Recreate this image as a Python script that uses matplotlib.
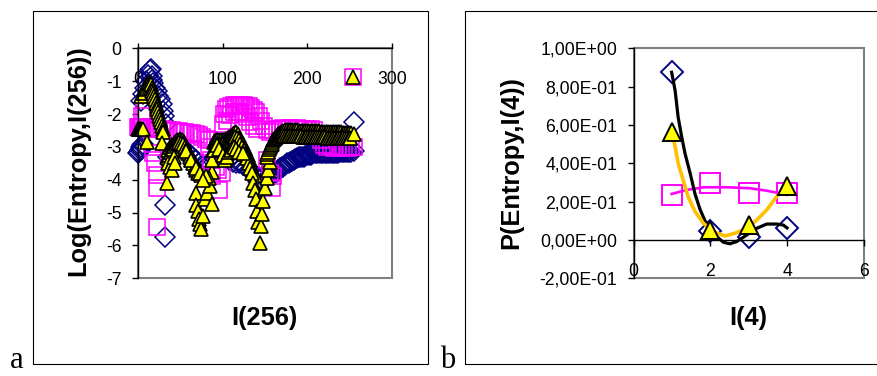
import matplotlib.pyplot as plt
from matplotlib.patches import Rectangle

plt.rcParams['font.family'] = ['Liberation Sans', 'DejaVu Sans']

# ---- panel a : Log(Entropy, I(256)) ----
a_xticks = [0, 100, 200, 300]
a_xtick_labels = ['0', '100', '200', '300']
a_yticks = [0, -1, -2, -3, -4, -5, -6, -7]
a_ytick_labels = ['0', '-1', '-2', '-3', '-4', '-5', '-6', '-7']

# series 1 (diamonds)
a_dia_x = [0, 1, 2, 3, 4, 5, 6,
           4, 6, 8, 10, 12, 14, 15, 16, 17, 18, 20, 22, 24, 26, 28, 30, 31, 33,
           32, 32,
           36, 40, 44, 48, 52, 56, 60, 64, 68, 72, 76, 80,
           84, 88, 92, 96, 100, 104, 108, 112, 116, 120, 124, 128, 132, 136, 140, 144, 148, 152,
           154, 156, 158, 160, 162, 164, 166, 168, 170, 172, 174, 176, 178, 180, 182, 184, 186, 188,
           190, 192, 194, 196, 198, 200, 202, 204, 206, 208, 210, 212, 214, 216, 218, 220, 222, 224,
           226, 228, 230, 232, 234, 236, 238, 240, 242, 244, 246, 248, 250, 252,
           255, 256]
a_dia_y = [-3.2, -3.15, -3.1, -3.05, -3.0, -2.95, -2.9,
           -1.6, -1.4, -1.2, -1.0, -0.8, -0.65, -0.62, -0.85, -0.95, -1.05, -1.2, -1.3, -1.45, -1.55, -1.7,
           -1.9, -2.05, -2.3,
           -4.77, -5.73,
           -3.3, -3.2, -3.1, -3.0, -3.0, -3.1, -3.2, -3.3, -3.4, -3.5, -3.55, -3.6,
           -3.5, -3.4, -3.3, -3.25, -3.3, -3.35, -3.4, -3.45, -3.5, -3.5, -3.55, -3.6, -3.7, -3.8, -3.9, -3.95,
           -3.9, -3.8,
           -3.9, -3.85, -3.83, -3.8, -3.78, -3.75, -3.7, -3.65, -3.62, -3.6, -3.55, -3.5, -3.48, -3.45, -3.42,
           -3.4, -3.38, -3.35,
           -3.32, -3.3, -3.3, -3.3, -3.27, -3.25, -3.25, -3.25, -3.22, -3.2, -3.2, -3.2, -3.2, -3.2, -3.2, -3.2,
           -3.2, -3.2,
           -3.2, -3.2, -3.2, -3.2, -3.18, -3.18, -3.17, -3.15, -3.15, -3.15, -3.15, -3.15, -3.15, -3.15,
           -2.23, -3.12]

# series 2 (squares)
a_sq_x = [0, 1, 2, 3, 4, 5, 6, 5, 7,
          8, 12, 16, 20, 24, 28, 32, 36, 40, 44, 48, 52, 56, 60, 64, 68, 72, 76, 80, 84,
          16, 18, 20, 22, 23, 22,
          84, 86, 88, 92, 95, 96, 99,
          100, 102, 104, 107, 110, 113, 116, 119, 122, 125, 128, 131, 134, 137, 140, 143, 146, 149, 152,
          105, 109, 113, 117, 121, 125, 129, 133, 137, 141,
          152, 156, 158, 160,
          156, 160, 164, 168, 172, 176, 180, 184, 188, 192, 196, 200, 204, 208, 212, 216, 220,
          224, 228, 232, 236, 240, 244, 248, 252, 256,
          254]
a_sq_y = [-2.4, -2.4, -2.4, -2.4, -2.4, -2.4, -2.4, -2.05, -1.9,
          -2.42, -2.44, -2.45, -2.46, -2.46, -2.47, -2.48, -2.49, -2.5, -2.51, -2.52, -2.54, -2.55, -2.57,
          -2.59, -2.61, -2.65, -2.7, -2.75, -2.8,
          -2.9, -3.2, -3.5, -3.85, -4.25, -5.43,
          -3.0, -3.4, -3.9, -3.6, -3.7, -4.3, -3.8,
          -2.3, -2.0, -1.85, -1.79, -1.76, -1.74, -1.72, -1.72, -1.72, -1.73, -1.75, -1.77, -1.82, -1.88,
          -1.95, -2.06, -2.2, -2.35, -2.5,
          -2.2, -2.02, -1.95, -1.95, -1.95, -2.0, -2.1, -2.23, -2.35, -2.45,
          -3.4, -3.8, -4.25, -3.9,
          -2.55, -2.5, -2.47, -2.45, -2.44, -2.45, -2.44, -2.45, -2.44, -2.45, -2.45, -2.45, -2.47, -2.5,
          -2.6, -2.8, -2.95,
          -3.0, -2.98, -3.02, -3.0, -3.02, -3.0, -3.02, -3.0, -3.0,
          -0.88]

# series 3 (triangles)
a_tri_x = [0, 1, 2, 3, 4, 5, 6,
           4, 6, 8, 9, 10, 11, 12, 13, 14, 15, 16, 17, 18, 19, 20, 21, 22, 23, 24, 25, 26, 27, 28, 29, 30,
           11, 28, 34,
           34, 36, 38, 40, 42, 44, 46, 48, 50, 52, 54, 56, 58, 60, 62, 64, 66, 68, 70, 72, 74,
           35, 37, 39, 41, 43, 45, 47, 49, 51, 53, 55, 57, 59, 61, 63, 65, 67, 69, 71,
           36, 38, 40, 42, 44, 57, 63, 69, 73,
           69, 69, 71, 72, 73, 75, 77, 79, 82, 85, 87, 87, 84, 80, 77,
           88, 89, 90, 91, 92, 94, 96, 98, 100, 102, 104, 106, 108, 110, 112, 114, 116,
           118, 120, 122, 124, 126, 128, 130, 132, 134, 136, 138,
           93, 95, 97, 99, 101, 103, 105, 107, 109, 111, 113, 115, 117, 119, 121, 123, 125, 127, 129,
           131, 133, 135,
           90, 93, 96, 100, 103, 105, 108, 110, 113, 116, 120, 124,
           136, 138, 140, 141, 142, 144, 146, 147, 148, 150, 152, 154, 156,
           152, 153, 154, 155, 156, 157, 158, 159, 160, 161, 162, 163, 164, 165, 166, 167, 168, 169, 170,
           172, 174, 176, 178, 180, 182, 184, 186, 188, 190, 192, 194, 196, 198, 200, 202, 204, 206,
           208, 210, 212, 214, 216, 218, 220, 222, 224, 226, 228, 230, 232, 234, 236, 238, 240, 242,
           244, 246, 248, 250, 252,
           173, 175, 177, 179, 181, 183, 185, 187, 189, 191, 193, 195, 197, 199, 201, 203, 205, 207,
           209, 211, 213, 215, 217, 219, 221, 223, 225, 227, 229, 231, 233, 235, 237, 239, 241, 243,
           245, 247, 249, 251,
           255, 254]
a_tri_y = [-2.45, -2.45, -2.45, -2.45, -2.45, -2.45, -2.45,
           -1.45, -1.35, -1.25, -1.2, -1.15, -1.1, -1.05, -1.02, -1.05, -1.1, -1.2, -1.3, -1.35, -1.45, -1.55,
           -1.65, -1.75, -1.85, -1.95, -2.05, -2.15, -2.25, -2.35, -2.45, -2.55,
           -2.84, -2.89, -4.11,
           -3.3, -3.1, -3.0, -2.95, -2.9, -2.85, -2.8, -2.78, -2.75, -2.78, -2.85, -2.95, -3.05, -3.15, -3.25,
           -3.35, -3.45, -3.55, -3.65, -3.75, -3.85,
           -3.35, -3.25, -3.15, -3.05, -2.98, -2.92, -2.88, -2.85, -2.87, -2.92, -3.0, -3.1, -3.2, -3.3, -3.4,
           -3.5, -3.6, -3.7, -3.8,
           -3.5, -3.6, -3.7, -3.3, -3.5, -3.14, -3.4, -3.65, -3.8,
           -4.4, -4.77, -4.95, -5.2, -5.35, -5.5, -5.1, -4.6, -4.4, -4.2, -4.75, -3.75, -3.95, -3.9, -4.0,
           -3.4, -3.1, -2.85, -2.82, -2.8, -2.78, -2.78, -2.8, -2.8, -2.78, -2.75, -2.72, -2.7, -2.68, -2.62,
           -2.58, -2.55,
           -2.62, -2.72, -2.82, -2.92, -3.02, -3.12, -3.25, -3.4, -3.55, -3.7, -3.85,
           -2.9, -2.92, -2.95, -2.95, -2.92, -2.9, -2.88, -2.85, -2.82, -2.78, -2.74, -2.7, -2.72, -2.8, -2.9,
           -3.0, -3.1, -3.22, -3.35, -3.5, -3.65, -3.8,
           -3.1, -2.95, -3.05, -3.25, -3.4, -3.3, -3.15, -3.1, -3.0, -3.05, -3.15, -3.2,
           -4.1, -4.3, -4.6, -4.95, -5.3, -5.92, -5.4, -5.05, -4.65, -4.25, -3.95, -3.7, -3.45,
           -3.3, -3.22, -3.15, -3.07, -3.0, -2.95, -2.9, -2.85, -2.8, -2.76, -2.72, -2.69, -2.66, -2.64, -2.62,
           -2.6, -2.58, -2.56, -2.55,
           -2.52, -2.5, -2.5, -2.49, -2.49, -2.49, -2.5, -2.5, -2.5, -2.51, -2.51, -2.51, -2.52, -2.52, -2.52,
           -2.52, -2.52, -2.53,
           -2.53, -2.53, -2.53, -2.53, -2.54, -2.54, -2.54, -2.55, -2.55, -2.55, -2.55, -2.55, -2.55, -2.56,
           -2.56, -2.56, -2.56, -2.57,
           -2.57, -2.57, -2.57, -2.58, -2.58,
           -2.66, -2.67, -2.68, -2.67, -2.67, -2.67, -2.68, -2.67, -2.68, -2.68, -2.68, -2.69, -2.69, -2.69,
           -2.69, -2.7, -2.7, -2.7,
           -2.7, -2.7, -2.71, -2.71, -2.71, -2.71, -2.71, -2.72, -2.72, -2.72, -2.72, -2.72, -2.72, -2.73,
           -2.73, -2.73, -2.73, -2.73,
           -2.74, -2.74, -2.74, -2.74,
           -2.6, -0.88]

# ---- panel b : P(Entropy, I(4)) ----
b_x = [1, 2, 3, 4]
b_dia = [0.875, 0.049, 0.014, 0.064]
b_sq = [0.235, 0.296, 0.243, 0.243]
b_tri = [0.565, 0.052, 0.080, 0.282]
b_black_x = [0.99, 1.08, 1.16, 1.25, 1.34, 1.47, 1.60, 1.73, 1.86, 1.99, 2.17, 2.34, 2.51, 2.69,
             2.95, 3.21, 3.47, 3.73, 3.90, 4.0]
b_black_y = [0.875, 0.78, 0.64, 0.54, 0.45, 0.35, 0.24, 0.16, 0.10, 0.06, 0.017, -0.012, -0.02, -0.008,
             0.026, 0.061, 0.083, 0.083, 0.078, 0.063]
b_gold_x = [0.99, 1.08, 1.16, 1.29, 1.42, 1.60, 1.82, 2.08, 2.38, 2.64, 2.95, 3.21, 3.47, 3.73, 3.99]
b_gold_y = [0.565, 0.487, 0.40, 0.313, 0.226, 0.148, 0.087, 0.043, 0.021, 0.035, 0.061, 0.104,
            0.157, 0.226, 0.282]
b_pink_x = [0.99, 1.38, 1.82, 2.43, 3.03, 3.47, 3.90, 3.99]
b_pink_y = [0.240, 0.261, 0.275, 0.275, 0.270, 0.257, 0.240, 0.235]
b_xticks = [0, 2, 4, 6]
b_xtick_labels = ['0', '2', '4', '6']
b_yticks = [1.0, 0.8, 0.6, 0.4, 0.2, 0.0, -0.2]
b_ytick_labels = ['1,00E+00', '8,00E-01', '6,00E-01', '4,00E-01', '2,00E-01', '0,00E+00', '-2,00E-01']

W, H = 877, 376
fig = plt.figure(figsize=(W / 100, H / 100), dpi=100)


def box(x0, y0, x1, y1):
    return [x0 / W, 1 - y1 / H, (x1 - x0) / W, (y1 - y0) / H]


# panel frames
for x0, x1 in [(33.3, 427.7), (465.3, 900)]:
    fig.add_artist(Rectangle((x0 / W, 1 - 364 / H), (x1 - x0) / W, (364 - 10.7) / H,
                             transform=fig.transFigure, fill=False, ec='black', lw=0.8))
fig.text(10 / W, 0.5 / H, 'a', family='Liberation Serif', fontsize=22, va='bottom')
fig.text(440 / W, 0.5 / H, 'b', family='Liberation Serif', fontsize=22, va='bottom')

ax1 = fig.add_axes(box(138, 48.3, 391.7, 278.3))
ax2 = fig.add_axes(box(633.7, 48.3, 863.7, 278.3))

for ax in (ax1, ax2):
    ax.spines['top'].set_visible(False)
    ax.spines['right'].set_visible(False)
    ax.spines['left'].set_linewidth(1.0)
    ax.spines['bottom'].set_linewidth(1.0)
    ax.spines['bottom'].set_position(('data', 0))
    ax.add_patch(Rectangle((0, 0), 1, 1, transform=ax.transAxes, fill=False,
                           ec='#808080', lw=1.5, clip_on=False, zorder=0.5))
    ax.tick_params(axis='y', direction='out', length=4.5, width=1.0, pad=7.2, labelsize=12.7)

# panel a
ax1.plot(a_dia_x, a_dia_y, ls='none', marker='D', ms=10, mfc='none', mec='#000080', mew=1.1, clip_on=False)
ax1.plot(a_sq_x, a_sq_y, ls='none', marker='s', ms=11.5, mfc='none', mec='#FF00FF', mew=1.1, clip_on=False)
ax1.plot(a_tri_x, a_tri_y, ls='none', marker='^', ms=10.5, mfc='#FFFF00', mec='black', mew=1.2, clip_on=False)
ax1.set_xlim(0, 300)
ax1.set_ylim(-7, 0)
ax1.set_xticks(a_xticks)
ax1.set_xticklabels(a_xtick_labels)
ax1.set_yticks(a_yticks)
ax1.set_yticklabels(a_ytick_labels)
ax1.tick_params(axis='x', direction='in', length=3.6, width=1.0, pad=16.3, labelsize=12.7)
ax1.set_ylabel('Log(Entropy,I(256))', fontsize=18.3, fontweight='bold', va='center')
ax1.yaxis.set_label_coords(-0.235, 0.511)
ax1.set_xlabel('I(256)', fontsize=18.3, fontweight='bold', va='center')
ax1.xaxis.set_label_coords(0.5, -0.174)

# panel b
ax2.plot(b_x, b_dia, ls='none', marker='D', ms=11, mfc='none', mec='#000080', mew=1.4, clip_on=False)
ax2.plot(b_x, b_sq, ls='none', marker='s', ms=14.5, mfc='none', mec='#FF00FF', mew=1.4, clip_on=False)
ax2.plot(b_pink_x, b_pink_y, color='#FF00FF', lw=1.9)
ax2.plot(b_black_x, b_black_y, color='black', lw=2.3)
ax2.plot(b_gold_x, b_gold_y, color='#FFC000', lw=2.6)
ax2.plot(b_x, b_tri, ls='none', marker='^', ms=12.5, mfc='#FFFF00', mec='black', mew=1.4, clip_on=False)
ax2.set_xlim(0, 6)
ax2.set_ylim(-0.2, 1.0)
ax2.set_xticks(b_xticks)
ax2.set_xticklabels(b_xtick_labels)
ax2.set_yticks(b_yticks)
ax2.set_yticklabels(b_ytick_labels)
ax2.tick_params(axis='x', direction='out', length=4.5, width=1.0, pad=12, labelsize=12.7)
ax2.set_ylabel('P(Entropy,I(4))', fontsize=18.3, fontweight='bold', va='center')
ax2.yaxis.set_label_coords(-0.533, 0.503)
ax2.set_xlabel('I(4)', fontsize=18.3, fontweight='bold', va='center')
ax2.xaxis.set_label_coords(0.5, -0.174)

fig.savefig('out.png', dpi=100)
